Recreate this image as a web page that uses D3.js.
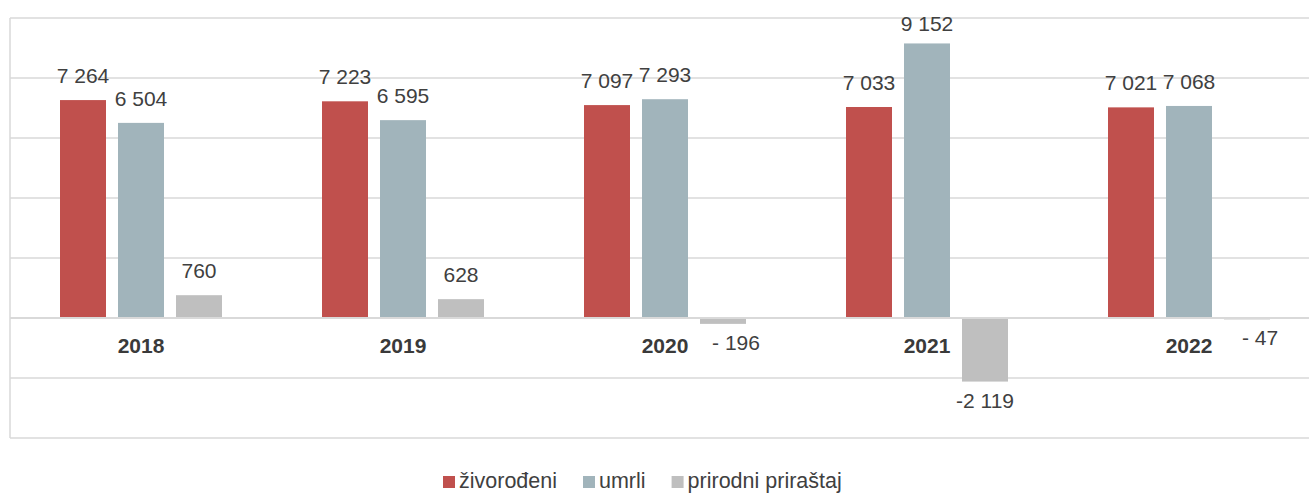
<!DOCTYPE html>
<html><head><meta charset="utf-8">
<script src="https://cdn.jsdelivr.net/npm/d3@7"></script>
<style>body{margin:0;background:#fff}svg{display:block;font-family:"Liberation Sans",Arial,sans-serif}</style>
</head><body><svg id="c" width="1309" height="493"></svg>
<script>
const years = ["2018","2019","2020","2021","2022"];
const seriesNames = ["živorođeni","umrli","prirodni priraštaj"];
const zivorodeni = [7264,7223,7097,7033,7021];
const umrli = [6504,6595,7293,9152,7068];
const prirast = [760,628,-196,-2119,-47];
const prirastLabels = ["760","628","- 196","-2 119","- 47"];
const yTicks = [-4000,-2000,0,2000,4000,6000,8000,10000];
const colors = ["#C0504D","#A1B4BB","#BFBFBF"];

const fmt = v => { const s = Math.abs(v).toString().replace(/\B(?=(\d{3})+(?!\d))/g," "); return (v<0?"-":"")+s; };
const svg = d3.select("#c");
const y = d3.scaleLinear().domain([-4000,10000]).range([438,18]);
const x0 = d3.scaleBand().domain(years).range([10,1320]);
const x1 = d3.scaleBand().domain(seriesNames).range([50,212]).paddingInner(12/58);

// grid
svg.append("g").selectAll("line").data(yTicks).join("line")
  .attr("x1",10).attr("x2",1309).attr("y1",d=>y(d)).attr("y2",d=>y(d))
  .attr("stroke","#D9D9D9").attr("stroke-width",1.5);
svg.append("line").attr("x1",10).attr("x2",10).attr("y1",y(10000)).attr("y2",y(-4000))
  .attr("stroke","#D9D9D9").attr("stroke-width",1.5);

const data = [zivorodeni, umrli, prirast];
const labels = [zivorodeni.map(fmt), umrli.map(fmt), prirastLabels];
const g = svg.append("g");
data.forEach((arr,si)=>{
  arr.forEach((v,i)=>{
    const xx = x0(years[i]) + x1(seriesNames[si]);
    const w = x1.bandwidth();
    g.append("rect").attr("x",xx).attr("width",w)
      .attr("y",Math.min(y(v),y(0))).attr("height",Math.abs(y(v)-y(0)))
      .attr("fill",colors[si]);
    let ty, dx = 0;
    if (v >= 0) ty = Math.max(y(v)-17, 31);
    else { ty = y(v)+26; if (v > -500) dx = 13; }
    g.append("text").attr("x",xx+w/2+dx).attr("y",ty).attr("text-anchor","middle")
      .attr("font-size",21).attr("fill","#404040").text(labels[si][i]);
  });
});
// zero line on top
svg.append("line").attr("x1",10).attr("x2",1309).attr("y1",y(0)).attr("y2",y(0))
  .attr("stroke","#D9D9D9").attr("stroke-width",2);

// category labels
svg.append("g").selectAll("text").data(years).join("text")
  .attr("x",d=>x0(d)+x0.bandwidth()/2).attr("y",353).attr("text-anchor","middle")
  .attr("font-size",21).attr("font-weight","bold").attr("fill","#3A3A3A").text(d=>d);

// legend
const lg = svg.append("g");
let lx = 443;
seriesNames.forEach((n,i)=>{
  lg.append("rect").attr("x",lx).attr("y",476).attr("width",12).attr("height",12).attr("fill",colors[i]);
  const t = lg.append("text").attr("x",lx+16).attr("y",487.5).attr("font-size",21.5).attr("fill","#404040").text(n);
  lx += 16 + t.node().getComputedTextLength() + 26;
});
</script></body></html>
